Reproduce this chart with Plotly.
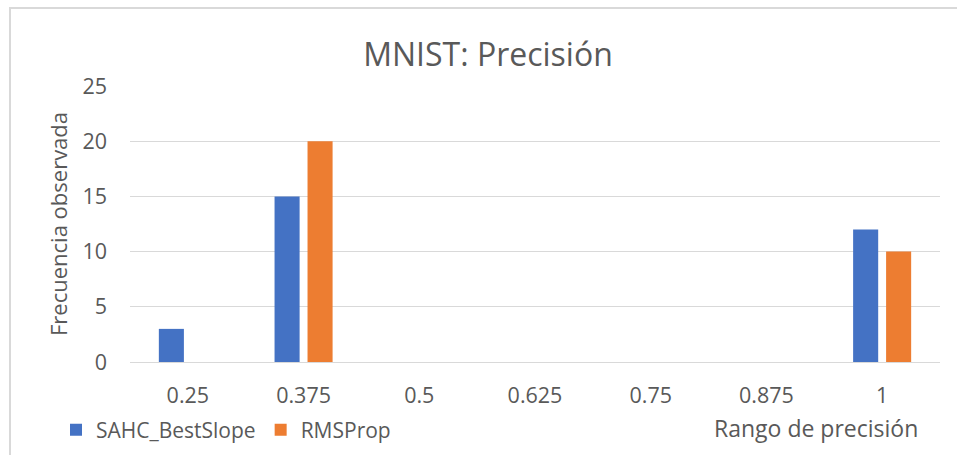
import plotly.graph_objects as go

# Histogram bins (precision range) and observed frequencies per optimizer
categories = ["0.25", "0.375", "0.5", "0.625", "0.75", "0.875", "1"]
sahc_bestslope = [3, 15, 0, 0, 0, 0, 12]
rmsprop = [0, 20, 0, 0, 0, 0, 10]
y_ticks = [0, 5, 10, 15, 20, 25]

text_color = "#595959"
grid_color = "#d9d9d9"
font_family = "Open Sans, Noto Sans, sans-serif"

fig = go.Figure()
fig.add_trace(go.Bar(name="SAHC_BestSlope", x=categories, y=sahc_bestslope,
                     marker=dict(color="#4472C4", line=dict(width=0))))
fig.add_trace(go.Bar(name="RMSProp", x=categories, y=rmsprop,
                     marker=dict(color="#ED7D31", line=dict(width=0))))

W, H = 957, 455
L, R, T, B = 130, 17, 86, 93
pw, ph = W - L - R, H - T - B

def px_x(x):
    return (x - L) / pw

def px_y(y):
    return (H - B - y) / ph

fig.update_layout(
    width=W, height=H,
    margin=dict(l=L, r=R, t=T, b=B, autoexpand=False),
    paper_bgcolor="white", plot_bgcolor="white",
    barmode="group", bargap=0.43, bargroupgap=0.24,
    font=dict(family=font_family, color=text_color, size=21),
    title=dict(text="MNIST: Precisión", xref="container", x=488 / W, xanchor="center",
               yref="container", y=1 - 55 / H, yanchor="middle",
               font=dict(size=32, color=text_color, family=font_family)),
    xaxis=dict(type="category", showgrid=False, showline=False, ticks="",
               tickfont=dict(size=21.5, color=text_color), ticklabelstandoff=18,
               zeroline=False, automargin=False),
    yaxis=dict(range=[0, 25], tickvals=y_ticks, showgrid=True, gridcolor=grid_color,
               gridwidth=1, zeroline=True, zerolinecolor=grid_color, zerolinewidth=1,
               showline=False, ticks="", tickfont=dict(size=21.5, color=text_color),
               ticklabelstandoff=22, automargin=False,
               title=dict(text="Frecuencia observada", standoff=8,
                          font=dict(size=22, color=text_color))),
    legend=dict(orientation="h", x=px_x(56), xanchor="left", y=px_y(430), yanchor="middle",
                font=dict(size=21, color=text_color), bgcolor="rgba(0,0,0,0)",
                itemsizing="constant", traceorder="normal"),
    showlegend=True,
)

# x-axis title placed at the lower right
fig.add_annotation(text="Rango de precisión", xref="paper", yref="paper",
                   x=px_x(920), xanchor="right", y=px_y(428), yanchor="middle",
                   showarrow=False, font=dict(size=23, color=text_color))

# Outer chart border
fig.add_shape(type="rect", xref="paper", yref="paper",
              x0=px_x(10), x1=px_x(970), y0=px_y(470), y1=px_y(8),
              line=dict(color=grid_color, width=2), fillcolor="rgba(0,0,0,0)", layer="below")

fig.write_html("out.html")
